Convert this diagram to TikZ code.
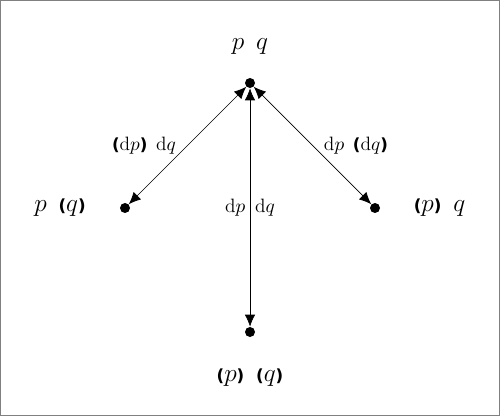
\documentclass[tikz,border=0pt]{standalone}
\usepackage{fontspec}
\usetikzlibrary{arrows.meta,positioning}
\newfontfamily\dvsans{DejaVu Sans}
\newcommand{\parfont}{\dvsans\bfseries\fontsize{9.5}{11}\selectfont}
\newcommand{\pr}[1]{{\parfont(}#1{\parfont)}}
\newcommand{\dd}{\mathrm{d}}
\newcommand{\gap}{\hspace{0.45em}}

\begin{document}
\begin{tikzpicture}[>={Latex[length=2.4mm,width=2.1mm]},node distance=2.5cm,on grid,
                    dot/.style={circle,fill,inner sep=0pt,minimum size=2mm},
                    lbl/.style={font=\fontsize{15}{18}\selectfont},
                    elbl/.style={font=\fontsize{11}{13}\selectfont}]
                \node[dot] (pq) {};
                \node[dot] (p_nq)  [below left=2.5cm and 2.5cm of pq] {};
                \node[dot] (np_q)  [below right=2.5cm and 2.5cm of pq] {};
                \node[dot] (np_nq) [below=4.98cm of pq] {};
                \useasboundingbox ([shift={(-5cm,1.66cm)}]pq.center) rectangle ([shift={(5cm,-6.66cm)}]pq.center);
                \draw[gray,line width=0.8pt] ([shift={(-4.986cm,1.646cm)}]pq.center) rectangle ([shift={(4.986cm,-6.646cm)}]pq.center);
                \node[lbl] (t_pq)    [above=0.73cm of pq]    {$p$\gap$q$};
                \node[lbl] (t_p_nq)  [left=1.3cm of p_nq]    {$p$\gap\pr{$q$}};
                \node[lbl] (t_np_q)  [right=1.29cm of np_q]  {\pr{$p$}\gap$q$};
                \node[lbl] (t_np_nq) [below=0.92cm of np_nq] {\pr{$p$}\gap\pr{$q$}};
                \path[<->]
                (pq) edge node[elbl,left=3pt]  {\pr{$\dd p$}\gap$\dd q$} (p_nq)
                (pq) edge node[elbl,right=3pt] {$\dd p$\gap\pr{$\dd q$}} (np_q)
                (pq) edge node[elbl] {$\dd p$\enspace$\dd q$} (np_nq);
            \end{tikzpicture}
\end{document}
